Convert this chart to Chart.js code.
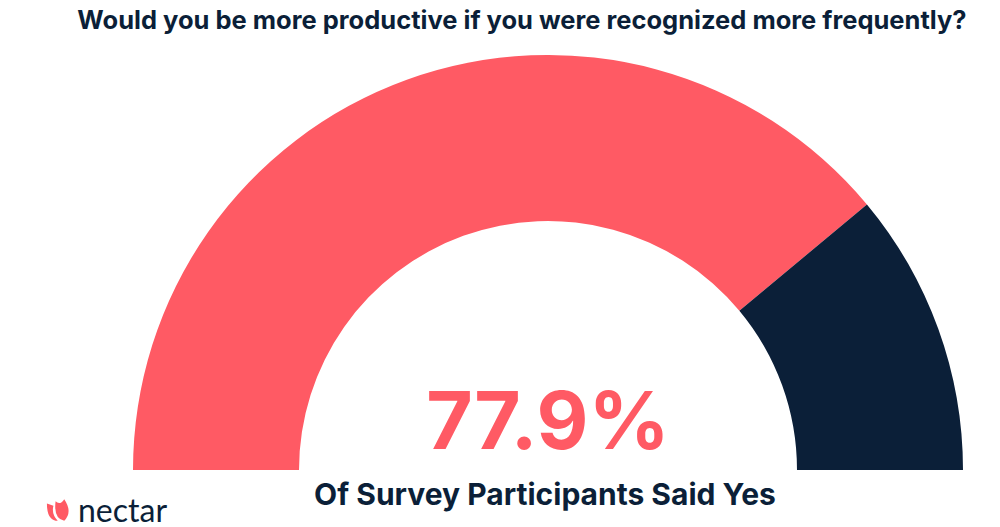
<!DOCTYPE html>
<html>
<head>
<meta charset="utf-8">
<script src="https://cdn.jsdelivr.net/npm/chart.js@4"></script>
<style>
  body { margin: 0; width: 1000px; height: 527px; background: #fff; position: relative; overflow: hidden; font-family: Inter, "Open Sans", sans-serif; }
  #wrap { position: absolute; left: 133px; top: 55px; width: 830px; height: 415px; }
  .title { position: absolute; top: 4px; left: 0; width: 1044px; text-align: center; font-weight: 700; font-size: 25.5px; color: #0b1f38; white-space: nowrap; }
  .big { position: absolute; top: 375px; left: 348px; width: 400px; text-align: center; font-weight: 700; font-size: 80px; color: #ff5a64; line-height: 90px; }
  .sub { position: absolute; top: 476px; left: 245px; width: 600px; text-align: center; font-weight: 700; font-size: 30px; color: #0b1f38; }
  .logo { position: absolute; top: 486px; left: 44px; font-size: 32px; color: #0b1f38; font-family: Lato, sans-serif; }
  .logo span { color: #0b1f38; vertical-align: middle; }
</style>
</head>
<body>
<div class="title">Would you be more productive if you were recognized more frequently?</div>
<div id="wrap"><canvas id="myChart"></canvas></div>
<div class="big">77.9%</div>
<div class="sub">Of Survey Participants Said Yes</div>
<div class="logo"><svg width="34" height="26" viewBox="0 0 30 24" style="vertical-align:middle"><path d="M2 6 Q2 22 12 22 Q6 16 8 8 Z" fill="#ff5a64"/><path d="M10 4 Q8 20 18 22 Q26 14 18 2 Q14 8 10 4 Z" fill="#ff5a64"/></svg><span>nectar</span></div>
<script>
const labels = ["Yes", "No"];
const values = [77.9, 22.1];
const colors = ["#ff5a64", "#0b1f38"];

const ctx = document.getElementById("myChart").getContext("2d");
new Chart(ctx, {
    type: "doughnut",
    data: {
        labels: labels,
        datasets: [{
            data: values,
            backgroundColor: colors,
            borderWidth: 0,
        }],
    },
    options: {
        responsive: true,
        maintainAspectRatio: false,
        animation: false,
        rotation: -90,
        circumference: 180,
        cutout: "60%",
        layout: { padding: 0 },
        plugins: {
            legend: { display: false },
            tooltip: { enabled: false },
        },
    },
});
</script>
</body>
</html>
